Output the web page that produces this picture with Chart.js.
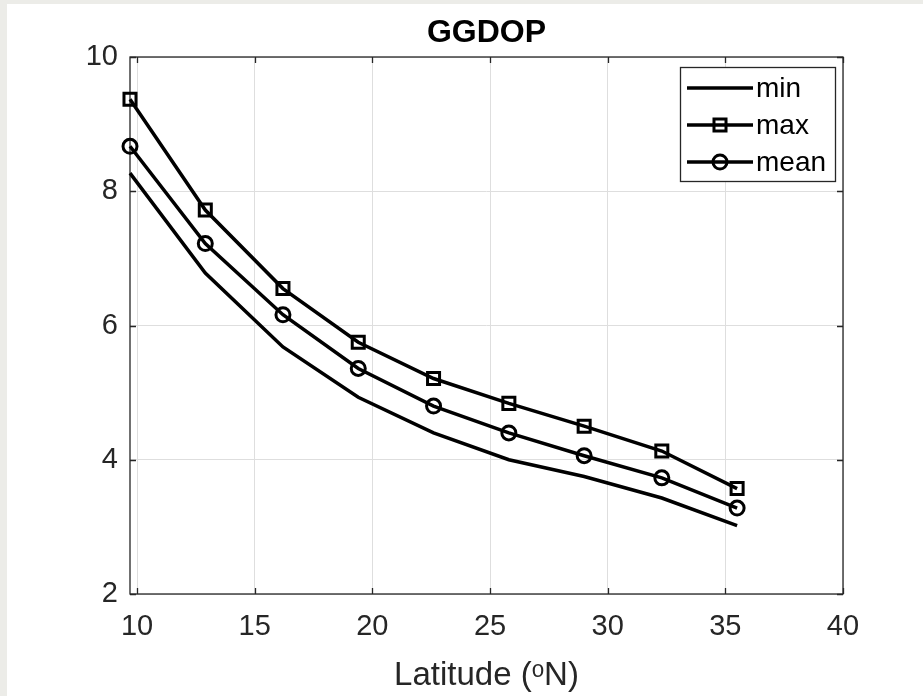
<!DOCTYPE html>
<html><head><meta charset="utf-8">
<script src="https://cdn.jsdelivr.net/npm/chart.js@4/dist/chart.umd.min.js"></script>
<style>html,body{margin:0;padding:0;background:#ecece8;overflow:hidden}canvas{display:block}</style>
</head><body>
<canvas id="c" width="923" height="696"></canvas>
<script>
const latitudes = [9.7, 12.9, 16.2, 19.4, 22.6, 25.8, 29.0, 32.3, 35.5];
const minValues = [8.27, 6.78, 5.68, 4.93, 4.40, 4.00, 3.75, 3.43, 3.02];
const maxValues = [9.37, 7.72, 6.55, 5.75, 5.21, 4.84, 4.50, 4.13, 3.57];
const meanValues = [8.67, 7.22, 6.16, 5.36, 4.80, 4.40, 4.06, 3.73, 3.28];
const xTicks = [10, 15, 20, 25, 30, 35, 40];
const yTicks = [2, 4, 6, 8, 10];
const seriesLabels = ['min', 'max', 'mean'];
const chartTitle = 'GGDOP';
const xTitle = 'Latitude (\u1D52N)';

const FONT = "'Liberation Sans', Arial, Helvetica, sans-serif";
const TXT = '#262626';

function pts(vals){ return latitudes.map((x,i)=>({x:x, y:vals[i]})); }

const framePlugin = {
  id:'frame',
  beforeDraw(chart){
    const ctx = chart.ctx;
    ctx.save();
    ctx.fillStyle = '#ecece8';
    ctx.fillRect(0,0,chart.width,chart.height);
    ctx.fillStyle = '#ffffff';
    ctx.fillRect(7,4,chart.width-7,chart.height-4);
    ctx.restore();
  },
  beforeDatasetsDraw(chart){
    const ctx = chart.ctx, a = chart.chartArea;
    const xs = chart.scales.x, ys = chart.scales.y;
    ctx.save();
    ctx.strokeStyle = TXT; ctx.lineWidth = 1.3;
    ctx.strokeRect(a.left, a.top, a.right-a.left, a.bottom-a.top);
    ctx.beginPath();
    xTicks.forEach(v=>{
      const p = Math.round(xs.getPixelForValue(v))+0.5;
      ctx.moveTo(p,a.bottom); ctx.lineTo(p,a.bottom-6);
      ctx.moveTo(p,a.top); ctx.lineTo(p,a.top+6);
    });
    yTicks.forEach(v=>{
      const p = Math.round(ys.getPixelForValue(v))+0.5;
      ctx.moveTo(a.left,p); ctx.lineTo(a.left+6,p);
      ctx.moveTo(a.right,p); ctx.lineTo(a.right-6,p);
    });
    ctx.stroke();
    ctx.fillStyle = '#000';
    ctx.font = 'bold 32px ' + FONT;
    ctx.textAlign = 'center'; ctx.textBaseline = 'middle';
    ctx.fillText(chartTitle, (a.left+a.right)/2, 33);
    ctx.restore();
  },
  afterDraw(chart){
    const ctx = chart.ctx;
    const bx = 680, by = 67, bw = 155, bh = 114;
    ctx.save();
    ctx.fillStyle = '#fff';
    ctx.fillRect(bx,by,bw,bh);
    ctx.strokeStyle = TXT; ctx.lineWidth = 1.3;
    ctx.strokeRect(bx+0.5,by+0.5,bw,bh);
    chart.data.datasets.forEach((ds,i)=>{
      const y = by + 21 + i*37;
      ctx.strokeStyle = '#000'; ctx.lineWidth = 3.5;
      ctx.beginPath(); ctx.moveTo(687,y); ctx.lineTo(753,y); ctx.stroke();
      if (ds.pointRadius > 0) {
        ctx.lineWidth = ds.pointBorderWidth;
        ctx.strokeStyle = '#000'; ctx.fillStyle = 'rgba(0,0,0,0)';
        Chart.helpers.drawPoint(ctx, {pointStyle: ds.pointStyle, radius: ds.pointRadius, borderWidth: ds.pointBorderWidth}, 720, y);
      }
      ctx.fillStyle = '#000';
      ctx.font = '28px ' + FONT;
      ctx.textAlign = 'left'; ctx.textBaseline = 'middle';
      ctx.fillText(ds.label, 756, y+1);
    });
    ctx.restore();
  }
};

new Chart(document.getElementById('c'), {
  type: 'line',
  data: {
    datasets: [
      {label: seriesLabels[0], data: pts(minValues), borderColor:'#000', borderWidth:3.5, pointRadius:0, pointStyle:'circle', pointBorderWidth:0, tension:0, fill:false},
      {label: seriesLabels[1], data: pts(maxValues), borderColor:'#000', borderWidth:3.5, pointRadius:8.5, pointStyle:'rect', pointBorderWidth:3, pointBorderColor:'#000', pointBackgroundColor:'rgba(0,0,0,0)', tension:0, fill:false},
      {label: seriesLabels[2], data: pts(meanValues), borderColor:'#000', borderWidth:3.5, pointRadius:7, pointStyle:'circle', pointBorderWidth:3, pointBorderColor:'#000', pointBackgroundColor:'rgba(0,0,0,0)', tension:0, fill:false}
    ]
  },
  options: {
    responsive:false, animation:false, devicePixelRatio:1,
    clip:false,
    layout:{padding:{top:57, right:80, left:0, bottom:0}},
    plugins:{legend:{display:false}, title:{display:false}, tooltip:{enabled:false}},
    scales:{
      x:{type:'linear', min:9.7, max:40,
        afterBuildTicks(s){ s.ticks = xTicks.map(v=>({value:v})); },
        afterFit(s){ s.height = 102; },
        grid:{color:'#dedede', lineWidth:1, drawTicks:false},
        border:{display:false},
        ticks:{font:{family:FONT, size:29}, color:TXT, padding:16, maxRotation:0, autoSkip:false},
        title:{display:true, text:xTitle, font:{family:FONT, size:33}, color:TXT, padding:{top:0,bottom:0}}
      },
      y:{type:'linear', min:2, max:10,
        afterBuildTicks(s){ s.ticks = yTicks.map(v=>({value:v})); },
        afterFit(s){ s.width = 130; },
        grid:{color:'#dedede', lineWidth:1, drawTicks:false},
        border:{display:false},
        ticks:{font:{family:FONT, size:29}, color:TXT, padding:12, autoSkip:false}
      }
    }
  },
  plugins:[framePlugin]
});
</script>
</body></html>
